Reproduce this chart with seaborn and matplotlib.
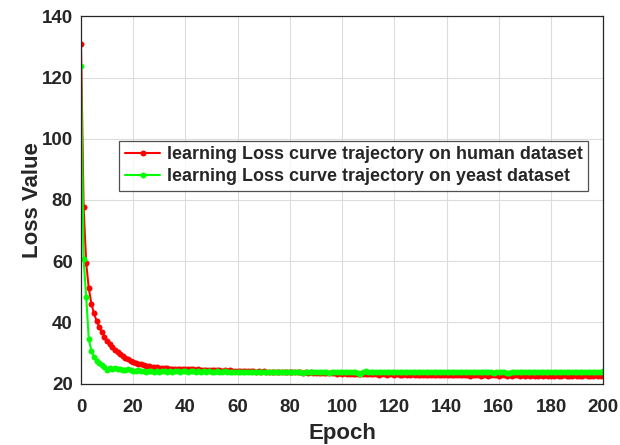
import matplotlib
matplotlib.use("Agg")
import matplotlib.pyplot as plt
import seaborn as sns
import pandas as pd
import numpy as np

human_loss = [
    131.0, 77.8, 59.3, 51.1, 46.0, 42.9, 40.4, 38.5, 36.8, 35.3,
    34.0, 32.9, 31.9, 31.1, 30.3, 29.6, 29.0, 28.5, 28.0, 27.5,
    27.1, 26.8, 26.5, 26.3, 26.0, 25.8, 25.7, 25.5, 25.4, 25.3,
    25.2, 25.1, 25.1, 25.0, 24.9, 24.9, 24.8, 24.8, 24.8, 24.7,
    24.7,
    24.6, 24.7, 24.6, 24.5, 24.6, 24.5, 24.4, 24.5, 24.4, 24.4,
    24.3, 24.4, 24.3, 24.2, 24.3, 24.2, 24.3, 24.2, 24.1, 24.2,
    24.1, 24.1, 24.0, 24.1, 24.0, 24.0, 23.9, 24.0, 23.9, 24.0,
    23.9, 23.8, 23.9, 23.8, 23.9, 23.8, 23.7, 23.8, 23.8, 23.7,
    23.7, 23.6, 23.7, 23.6, 23.5, 23.6, 23.5, 23.6, 23.4, 23.5,
    23.4, 23.5, 23.3, 23.4, 23.3, 23.4, 23.3, 23.2, 23.3, 23.2,
    23.3, 23.2, 23.1, 23.2, 23.1, 23.2, 23.1, 23.0, 23.1, 23.2,
    23.0, 23.1, 23.0, 22.9, 23.1, 23.0, 22.9, 23.0, 23.0, 22.9,
    23.0, 22.9, 22.9, 23.0, 22.8, 22.9, 23.0, 22.8, 22.9, 22.8,
    22.9, 22.8, 22.9, 22.8, 22.7, 22.9, 22.8, 22.8, 22.7, 22.9,
    22.8, 22.7, 22.8, 22.9, 22.7, 22.8, 22.7, 22.8, 22.6, 22.8,
    22.7, 22.8, 22.6, 22.7, 22.8, 22.6, 22.7, 22.8, 22.7, 22.6,
    22.7, 22.8, 22.6, 22.7, 22.6, 22.8, 22.7, 22.6, 22.7, 22.5,
    22.7, 22.6, 22.7, 22.6, 22.5, 22.7, 22.6, 22.7, 22.6, 22.5,
    22.6, 22.7, 22.5, 22.6, 22.7, 22.6, 22.5, 22.6, 22.7, 22.6,
    22.5, 22.6, 22.7, 22.6, 22.5, 22.6, 22.7, 22.6, 22.6, 22.7,
]

yeast_loss = [
    123.8, 60.6, 48.3, 34.4, 30.7, 28.7, 27.5, 26.6, 26.0, 25.3,
    24.5, 25.1, 24.6, 25.0, 24.7, 24.8, 24.5, 24.4, 24.6, 24.4,
    24.2,
    24.1, 24.3, 24.0, 24.2, 23.9, 24.1, 24.0, 23.8, 24.0, 23.7,
    24.0, 24.1, 23.9, 24.2, 23.9, 24.0, 24.1, 23.8, 24.0, 24.2,
    23.9, 24.0, 24.1, 23.8, 24.0, 23.9, 24.1, 23.8, 24.0, 23.9,
    23.7, 24.0, 23.9, 23.8, 24.0, 23.7, 23.9, 23.8, 23.6, 23.9,
    23.8, 23.7, 23.9, 23.8, 23.6, 23.9, 23.7, 23.8, 23.9, 23.6,
    23.8, 23.7, 23.9, 23.6, 23.8, 23.7, 23.9, 23.8, 23.6, 23.8,
    23.7, 23.6, 23.8, 23.7, 23.5, 23.8, 23.6, 23.7, 23.9, 23.6,
    23.7, 23.8, 23.6, 23.7, 23.5, 23.8, 23.7, 23.6, 23.8, 23.7,
    23.6, 23.8, 23.7, 23.9, 23.6, 23.4, 23.2, 23.9, 24.0, 23.7,
    23.8, 23.6, 23.7, 23.9, 23.6, 23.8, 23.7, 23.6, 23.8, 23.7,
    23.6, 23.8, 23.7, 23.9, 23.6, 23.7, 23.8, 23.6, 23.7, 23.9,
    23.7, 23.6, 23.8, 23.7, 23.9, 23.6, 23.8, 23.7, 23.6, 23.8,
    23.9, 23.7, 23.6, 23.8, 23.7, 23.9, 23.6, 23.8, 23.7, 23.6,
    23.8, 23.7, 23.9, 23.6, 23.7, 23.8, 23.6, 23.5, 23.7, 23.8,
    23.6, 23.8, 23.4, 23.5, 23.7, 23.9, 23.8, 23.7, 23.9, 23.8,
    23.7, 23.9, 23.8, 23.7, 23.9, 23.6, 23.8, 23.9, 23.7, 23.8,
    23.9, 23.7, 23.8, 23.9, 23.7, 23.8, 23.6, 23.9, 23.8, 23.7,
    23.9, 23.8, 23.7, 23.9, 23.8, 23.7, 23.9, 23.8, 23.9, 24.1,
]

series_labels = [
    "learning Loss curve trajectory on human dataset",
    "learning Loss curve trajectory on yeast dataset",
]
series_colors = ["#ff0000", "#00ff00"]
x_ticks = [0, 20, 40, 60, 80, 100, 120, 140, 160, 180, 200]
y_ticks = [20, 40, 60, 80, 100, 120, 140]

epochs = list(range(len(human_loss)))
df = pd.concat([
    pd.DataFrame({"Epoch": epochs, "Loss": human_loss, "series": series_labels[0]}),
    pd.DataFrame({"Epoch": list(range(len(yeast_loss))), "Loss": yeast_loss, "series": series_labels[1]}),
], ignore_index=True)

sns.set_style("white")
plt.rcParams["font.family"] = ["Liberation Sans", "DejaVu Sans"]
plt.rcParams["font.weight"] = "bold"

fig = plt.figure(figsize=(6.2, 4.45), dpi=100)
ax = fig.add_axes([0.1306, 0.1382, 0.8424, 0.8248])

for lab, col in zip(series_labels, series_colors):
    sub = df[df["series"] == lab]
    sns.lineplot(data=sub, x="Epoch", y="Loss", ax=ax, color=col, label=lab,
                 marker="o", markersize=4.3, markeredgewidth=0, linewidth=1.5,
                 estimator=None, sort=False)

ax.set_xlim(0, 200)
ax.set_ylim(20, 140)
ax.set_xticks(x_ticks)
ax.set_yticks(y_ticks)
ax.grid(True, color="#dcdcdc", linewidth=0.8)
ax.set_axisbelow(True)
for s in ax.spines.values():
    s.set_visible(True)
    s.set_color("#262626")
    s.set_linewidth(0.9)
ax.tick_params(direction="in", length=4, width=0.8, color="#262626",
               labelsize=13.5, labelcolor="#262626")
ax.tick_params(axis="x", pad=11)
ax.tick_params(axis="y", pad=6)
for t in ax.get_xticklabels() + ax.get_yticklabels():
    t.set_fontweight("bold")
ax.set_xlabel("Epoch", fontsize=16, fontweight="bold", color="#262626", labelpad=5)
ax.set_ylabel("Loss Value", fontsize=16, fontweight="bold", color="#262626", labelpad=-1)

leg = ax.legend(loc="upper left", bbox_to_anchor=(0.0733, 0.6616), fontsize=12.9,
                frameon=True, fancybox=False, edgecolor="#262626",
                handlelength=2.0, handletextpad=0.35, labelspacing=0.3,
                borderpad=0.3, borderaxespad=0)
leg.get_frame().set_linewidth(0.9)
for t in leg.get_texts():
    t.set_fontweight("bold")

fig.savefig("out.png", dpi=100)
